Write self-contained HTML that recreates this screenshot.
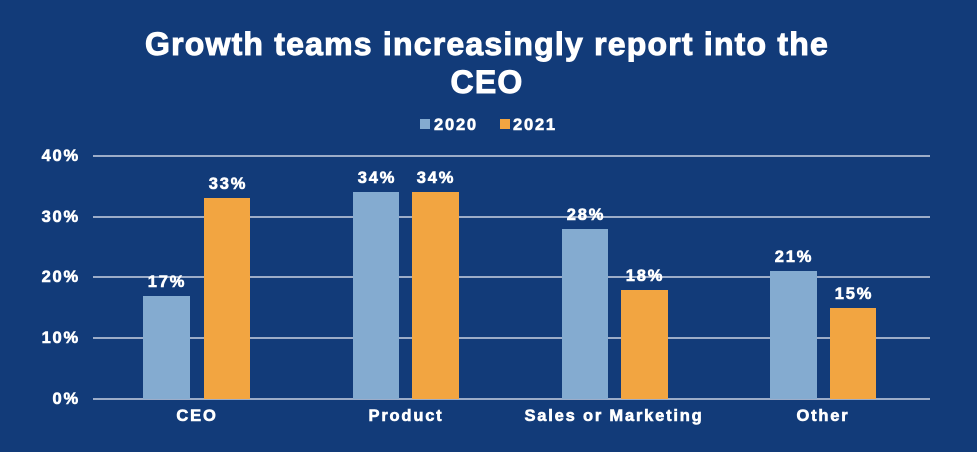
<!DOCTYPE html>
<html><head><meta charset="utf-8"><style>
html,body{margin:0;padding:0;background:#123b79;}
svg{display:block;font-family:"Liberation Sans",sans-serif;font-weight:bold;}
.s{font-size:16.5px;letter-spacing:1.8px;stroke:#fff;stroke-width:0.6px;}
</style></head><body>
<svg width="977" height="452" viewBox="0 0 977 452">
<rect width="977" height="452" fill="#123b79"/>
<g fill="#fff" text-anchor="middle" font-size="32" letter-spacing="1.2" stroke="#fff" stroke-width="1">
<text x="487" y="55">Growth teams increasingly report into the</text>
<text x="487" y="93">CEO</text>
</g>
<rect x="420" y="119" width="10" height="10" fill="#84abd0"/>
<text class="s" x="434" y="130" fill="#fff">2020</text>
<rect x="500" y="119" width="10" height="10" fill="#f2a541"/>
<text class="s" x="513" y="130" fill="#fff">2021</text>
<g stroke="#c9d2e3" stroke-width="1.5">
<line x1="93" x2="930" y1="156" y2="156"/>
<line x1="93" x2="930" y1="217" y2="217"/>
<line x1="93" x2="930" y1="277" y2="277"/>
<line x1="93" x2="930" y1="338" y2="338"/>
<line x1="93" x2="930" y1="399" y2="399"/>
</g>
<g fill="#fff" class="s" text-anchor="end">
<text class="s" x="80" y="161">40%</text>
<text class="s" x="80" y="222">30%</text>
<text class="s" x="80" y="282">20%</text>
<text class="s" x="80" y="343">10%</text>
<text class="s" x="80" y="404">0%</text>
</g>
<g fill="#84abd0">
<rect x="143" y="296" width="47" height="103"/>
<rect x="353" y="192" width="46" height="207"/>
<rect x="562" y="229" width="46" height="170"/>
<rect x="770" y="271" width="47" height="128"/>
</g>
<g fill="#f2a541">
<rect x="204" y="198" width="46" height="201"/>
<rect x="412" y="192" width="47" height="207"/>
<rect x="621" y="290" width="47" height="109"/>
<rect x="830" y="308" width="46" height="91"/>
</g>
<g fill="#fff" text-anchor="middle">
<text class="s" x="167" y="189" dy="98">17%</text>
<text class="s" x="228" y="189">33%</text>
<text class="s" x="377" y="183">34%</text>
<text class="s" x="436" y="183">34%</text>
<text class="s" x="586" y="220">28%</text>
<text class="s" x="645" y="281">18%</text>
<text class="s" x="794" y="262">21%</text>
<text class="s" x="854" y="299">15%</text>
<text class="s" x="197" y="421">CEO</text>
<text class="s" x="406" y="421">Product</text>
<text class="s" x="614" y="421">Sales or Marketing</text>
<text class="s" x="823" y="421">Other</text>
</g>
</svg>
</body></html>
